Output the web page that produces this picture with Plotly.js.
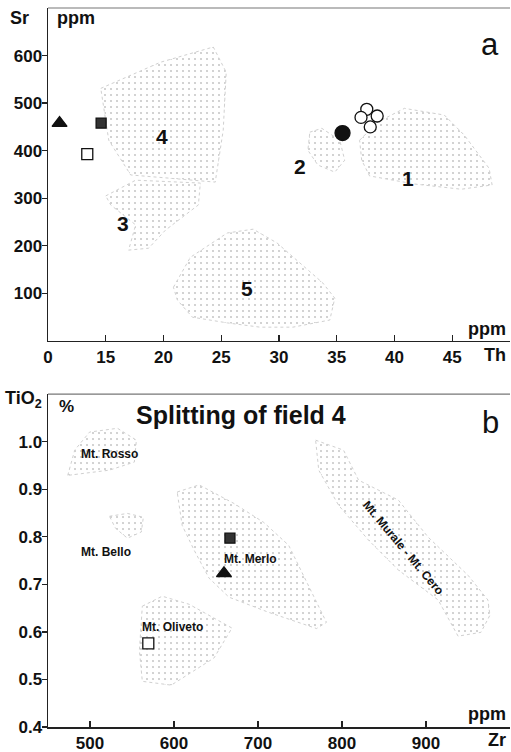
<!DOCTYPE html>
<html>
<head>
<meta charset="utf-8">
<script src="https://cdn.plot.ly/plotly-3.0.1.min.js"></script>
<style>html,body{margin:0;padding:0;background:#fff;}#chart{width:511px;height:752px;}</style>
</head>
<body>
<div id="chart"></div>
<script>
// ---------- Panel a : Th (ppm) vs Sr (ppm) ----------
const thTicks = [10, 15, 20, 25, 30, 35, 40, 45];
const thTickText = ["0", "15", "20", "25", "30", "35", "40", "45"];
const srTicks = [100, 200, 300, 400, 500, 600];

const field1Th = [36.98, 38.53, 40.86, 44.31, 46.03, 48.19, 48.45, 45.78, 41.72, 37.84, 37.16];
const field1Sr = [422, 460, 489, 475, 433, 363, 328, 319, 330, 347, 380];
const field2Th = [32.67, 33.71, 35.26, 35.69, 34.83, 33.36, 32.5];
const field2Sr = [439, 447, 422, 380, 355, 370, 401];
const field3Th = [15.0, 17.59, 23.19, 23.02, 20.17, 18.71, 16.98, 17.59, 15.43];
const field3Sr = [305, 338, 332, 286, 233, 195, 191, 244, 286];
const field4Th = [14.57, 19.74, 24.31, 25.43, 25.17, 24.48, 20.6, 17.16, 15.26];
const field4Sr = [531, 586, 618, 565, 443, 334, 342, 349, 422];
const field5Th = [20.86, 22.33, 25.52, 27.76, 29.83, 33.79, 34.83, 34.4, 31.2, 28.36, 25.52, 22.5, 21.2];
const field5Sr = [113, 176, 227, 235, 206, 122, 90, 44, 29, 29, 38, 50, 86];

const fieldLabels = ["1", "2", "3", "4", "5"];
const fieldLabelTh = [41.2, 31.8, 16.5, 19.9, 27.2];
const fieldLabelSr = [342, 366, 248, 429, 111];

const triTh = [11.0], triSr = [458];
const fSqTh = [14.6], fSqSr = [458];
const oSqTh = [13.4], oSqSr = [393];
const fCircTh = [35.5], fCircSr = [437];
const oCircTh = [37.6, 37.1, 38.5, 37.9], oCircSr = [487, 470, 473, 450];

// ---------- Panel b : Zr (ppm) vs TiO2 (%) ----------
const zrTicks = [500, 600, 700, 800, 900];
const tiTicks = [0.4, 0.5, 0.6, 0.7, 0.8, 0.9, 1.0];

const rossoZr = [473.5, 481.8, 499.5, 532.7, 555.2, 552.8, 523.2];
const rossoTi = [0.929, 0.982, 1.020, 1.028, 1.003, 0.957, 0.940];
const belloZr = [523.2, 544.5, 563.5, 561.1, 544.5, 530.3];
const belloTi = [0.843, 0.849, 0.841, 0.810, 0.797, 0.818];
const merloZr = [603.8, 629.9, 671.3, 706.9, 736.5, 762.6, 781.5, 769.7, 712.8, 665.4, 641.7, 623.9, 609.7];
const merloTi = [0.894, 0.909, 0.870, 0.830, 0.782, 0.688, 0.620, 0.607, 0.641, 0.673, 0.713, 0.772, 0.824];
const olivetoZr = [562.3, 586.0, 618.0, 669.0, 647.6, 596.7, 562.3, 558.8];
const olivetoTi = [0.654, 0.675, 0.658, 0.608, 0.545, 0.488, 0.496, 0.561];
const muraleZr = [768.6, 801.8, 819.7, 867.1, 902.6, 950.0, 973.7, 976.1, 965.4, 938.2, 914.5, 867.1, 831.5, 796.0, 772.3];
const muraleTi = [1.003, 0.982, 0.919, 0.877, 0.799, 0.719, 0.667, 0.635, 0.599, 0.591, 0.667, 0.730, 0.793, 0.866, 0.940];

const subLabels = ["Mt. Rosso", "Mt. Bello", "Mt. Merlo", "Mt. Oliveto", "Mt. Murale - Mt. Cero"];
const subLabelZr = [523, 518.5, 691.5, 598, 873];
const subLabelTi = [0.973, 0.767, 0.753, 0.61, 0.776];
const subLabelAngle = [0, 0, 0, 0, 50];

const bFSqZr = [666.6], bFSqTi = [0.797];
const bTriZr = [659.5], bTriTi = [0.723];
const bOSqZr = [569.4], bOSqTi = [0.576];

// ---------- build ----------
const FONT = "Liberation Sans, Arial, Helvetica, sans-serif";
const close = a => a.concat([a[0]]);
const bold = a => a.map(v => "<b>" + v + "</b>");
function field(x, y, xa, ya) {
  return {
    type: "scatter", mode: "lines", x: close(x), y: close(y), xaxis: xa, yaxis: ya,
    fill: "toself", fillcolor: "rgba(255,255,255,0)",
    fillpattern: {shape: ".", fgcolor: "#c8c8c8", bgcolor: "rgba(255,255,255,0)", size: 6, solidity: 0.1},
    line: {color: "#d0d0d0", width: 1, dash: "dot"},
    hoverinfo: "skip", showlegend: false
  };
}
function pts(x, y, xa, ya, symbol, size, color, lineColor) {
  return {
    type: "scatter", mode: "markers", x: x, y: y, xaxis: xa, yaxis: ya, showlegend: false,
    marker: {symbol: symbol, size: size, color: color, line: {color: lineColor, width: 1.3}}
  };
}

const data = [
  field(field1Th, field1Sr, "x", "y"),
  field(field2Th, field2Sr, "x", "y"),
  field(field3Th, field3Sr, "x", "y"),
  field(field4Th, field4Sr, "x", "y"),
  field(field5Th, field5Sr, "x", "y"),
  pts(triTh, triSr, "x", "y", "triangle-up", 13, "#111", "#111"),
  pts(fSqTh, fSqSr, "x", "y", "square", 10, "#333", "#111"),
  pts(oSqTh, oSqSr, "x", "y", "square", 11, "#fff", "#111"),
  pts(fCircTh, fCircSr, "x", "y", "circle", 15, "#111", "#111"),
  pts(oCircTh, oCircSr, "x", "y", "circle", 12, "#fff", "#111"),

  field(rossoZr, rossoTi, "x2", "y2"),
  field(belloZr, belloTi, "x2", "y2"),
  field(merloZr, merloTi, "x2", "y2"),
  field(olivetoZr, olivetoTi, "x2", "y2"),
  field(muraleZr, muraleTi, "x2", "y2"),
  pts(bFSqZr, bFSqTi, "x2", "y2", "square", 10, "#333", "#111"),
  pts(bTriZr, bTriTi, "x2", "y2", "triangle-up", 13, "#111", "#111"),
  pts(bOSqZr, bOSqTi, "x2", "y2", "square", 11, "#fff", "#111")
];

const tickFont = {family: FONT, size: 17, color: "#111"};
const axBase = {
  showgrid: false, zeroline: false, showline: true, linecolor: "#222", linewidth: 1.5,
  tickcolor: "#222", tickwidth: 1.3, tickfont: tickFont, fixedrange: true
};

const annotations = [];
function ann(text, x, y, xref, yref, size, isBold, extra) {
  annotations.push(Object.assign({
    text: isBold ? "<b>" + text + "</b>" : text, x: x, y: y, xref: xref, yref: yref, showarrow: false,
    xanchor: "center", yanchor: "middle",
    font: {family: FONT, size: size, color: "#111"}
  }, extra || {}));
}
fieldLabels.forEach((t, i) => ann(t, fieldLabelTh[i], fieldLabelSr[i], "x", "y", 21, true));
subLabels.forEach((t, i) => ann(t, subLabelZr[i], subLabelTi[i], "x2", "y2", 12, true, {textangle: subLabelAngle[i]}));

ann("Sr", -0.062, 0.986, "paper", "paper", 18, true);
ann("ppm", 0.06, 0.986, "paper", "paper", 18, true);
ann("a", 0.957, 0.949, "paper", "paper", 31, false);
ann("ppm", 0.950, 0.553, "paper", "paper", 18, true);
ann("Th", 0.968, 0.517, "paper", "paper", 18, true);
ann("TiO<sub>2</sub>", -0.052, 0.455, "paper", "paper", 18, true);
ann("%", 0.041, 0.446, "paper", "paper", 17, true);
ann("Splitting of field 4", 0.418, 0.434, "paper", "paper", 25, true);
ann("b", 0.957, 0.424, "paper", "paper", 31, false);
ann("ppm", 0.950, 0.0175, "paper", "paper", 18, true);
ann("Zr", 0.972, -0.018, "paper", "paper", 18, true);

const layout = {
  width: 511, height: 752,
  margin: {l: 48, r: 1, t: 8, b: 25},
  paper_bgcolor: "#fff", plot_bgcolor: "#fff",
  showlegend: false,
  xaxis: Object.assign({}, axBase, {anchor: "y", domain: [0, 1], range: [10, 50],
    tickvals: thTicks, ticktext: bold(thTickText), ticks: "inside", ticklen: 6}),
  yaxis: Object.assign({}, axBase, {anchor: "x", domain: [0.5369, 1], range: [0, 700],
    tickvals: srTicks, ticktext: bold(srTicks), ticks: "outside", ticklen: 5, ticklabelstandoff: -4}),
  xaxis2: Object.assign({}, axBase, {anchor: "y2", domain: [0, 1], range: [450, 1000],
    tickvals: zrTicks, ticktext: bold(zrTicks), ticks: "inside", ticklen: 6}),
  yaxis2: Object.assign({}, axBase, {anchor: "x2", domain: [0, 0.4631], range: [0.4, 1.1],
    tickvals: tiTicks, ticktext: bold(tiTicks.map(v => v.toFixed(1))), ticks: "outside", ticklen: 5, ticklabelstandoff: -4}),
  shapes: [
    {type: "line", xref: "paper", yref: "y domain", x0: 0, x1: 1, y0: 1, y1: 1, line: {color: "#777", width: 1.2}},
    {type: "line", xref: "paper", yref: "y2 domain", x0: 0, x1: 1, y0: 1, y1: 1, line: {color: "#777", width: 1.2}}
  ],
  annotations: annotations
};

Plotly.newPlot("chart", data, layout, {staticPlot: true, displayModeBar: false});
</script>
</body>
</html>
